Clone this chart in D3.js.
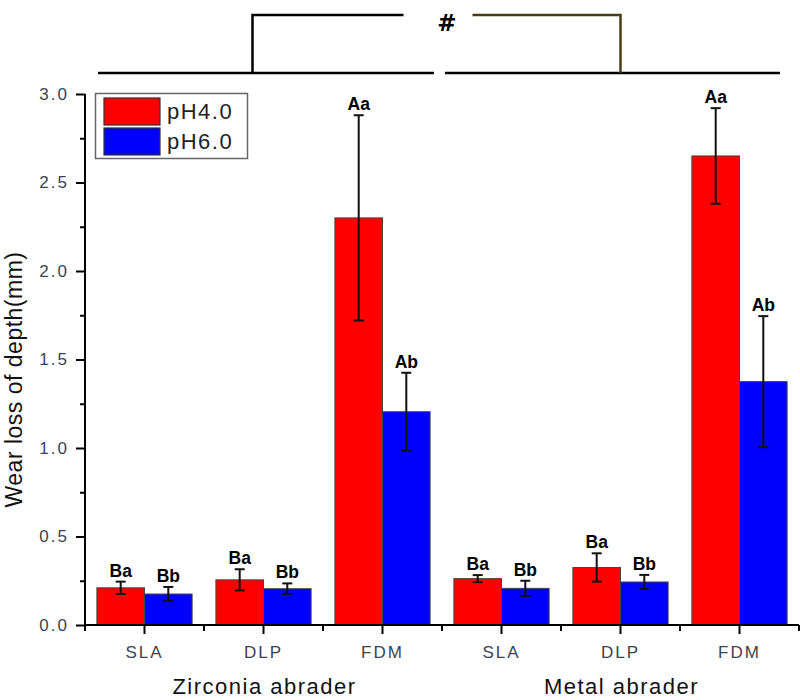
<!DOCTYPE html>
<html><head><meta charset="utf-8">
<script src="https://cdn.jsdelivr.net/npm/d3@7"></script>
<style>
body{margin:0;background:#fff;}
svg{display:block;font-family:"Liberation Sans",Arial,sans-serif;}
</style></head>
<body><svg id="chart" width="800" height="700"></svg>
<script>
// ---- data ----
const groups = ["Zirconia abrader", "Metal abrader"];
const categories = ["SLA", "DLP", "FDM"];
const seriesNames = ["pH4.0", "pH6.0"];
const seriesColors = ["#ff0000", "#0000ff"];
const ph4Values = [0.21, 0.255, 2.30, 0.262, 0.325, 2.65];
const ph4Errors = [0.035, 0.06, 0.58, 0.02, 0.08, 0.27];
const ph4Letters = ["Ba", "Ba", "Aa", "Ba", "Ba", "Aa"];
const ph6Values = [0.175, 0.205, 1.205, 0.207, 0.243, 1.375];
const ph6Errors = [0.04, 0.03, 0.22, 0.043, 0.04, 0.37];
const ph6Letters = ["Bb", "Bb", "Ab", "Bb", "Bb", "Ab"];
const yTicks = [0, 0.5, 1.0, 1.5, 2.0, 2.5, 3.0];
const yMinorTicks = [0.25, 0.75, 1.25, 1.75, 2.25, 2.75];

// ---- layout ----
const svg = d3.select("#chart");
const pL = 85, pR = 799, pT = 94, pB = 625;

const keys = [];
groups.forEach((g, gi) => categories.forEach((c, ci) => keys.push(gi + "-" + c)));
const x = d3.scaleBand().domain(keys).range([pL, pR]).paddingInner(0.2).paddingOuter(0.1);
const xs = d3.scaleBand().domain(seriesNames).range([0, x.bandwidth()]);
const y = d3.scaleLinear().domain([0, 3]).range([pB, pT]);

const rows = keys.map((k, i) => ({
  key: k, cat: categories[i % 3],
  series: [
    {name: seriesNames[0], v: ph4Values[i], e: ph4Errors[i], l: ph4Letters[i], c: seriesColors[0]},
    {name: seriesNames[1], v: ph6Values[i], e: ph6Errors[i], l: ph6Letters[i], c: seriesColors[1]}
  ]
}));

// bars
const g = svg.append("g");
const cat = g.selectAll("g.cat").data(rows).join("g").attr("transform", d => `translate(${x(d.key)},0)`);
cat.selectAll("rect").data(d => d.series).join("rect")
  .attr("x", d => xs(d.name)).attr("width", xs.bandwidth())
  .attr("y", d => y(d.v)).attr("height", d => y(0) - y(d.v))
  .attr("fill", d => d.c).attr("stroke", "#444").attr("stroke-width", 1);

// error bars
const eb = cat.selectAll("g.err").data(d => d.series).join("g")
  .attr("transform", d => `translate(${xs(d.name) + xs.bandwidth() / 2},0)`)
  .attr("stroke", "#111").attr("stroke-width", 2);
eb.append("line").attr("y1", d => y(d.v + d.e)).attr("y2", d => y(d.v - d.e));
eb.append("line").attr("x1", -5).attr("x2", 5).attr("y1", d => y(d.v + d.e)).attr("y2", d => y(d.v + d.e));
eb.append("line").attr("x1", -5).attr("x2", 5).attr("y1", d => y(d.v - d.e)).attr("y2", d => y(d.v - d.e));
cat.selectAll("text.lbl").data(d => d.series).join("text")
  .attr("x", d => xs(d.name) + xs.bandwidth() / 2)
  .attr("y", d => y(d.v + d.e) - 5)
  .attr("text-anchor", "middle").attr("font-weight", "bold").attr("font-size", 17.5)
  .attr("fill", "#000").text(d => d.l);

// y axis
const yAxis = svg.append("g").attr("transform", `translate(${pL},0)`)
  .call(d3.axisLeft(y).tickValues(yTicks).tickFormat(d3.format(".1f")).tickSize(9).tickPadding(7));
yAxis.select(".domain").attr("stroke", "#000").attr("stroke-width", 2).attr("d", `M0,${pB}V${pT}`);
yAxis.selectAll(".tick line").attr("stroke", "#000").attr("stroke-width", 2);
yAxis.selectAll("text").attr("font-size", 17).attr("fill", "#3a4450").attr("letter-spacing", 2)
  .attr("font-family", "'Liberation Sans',Arial,sans-serif");
const yMinor = svg.append("g").attr("transform", `translate(${pL},0)`)
  .call(d3.axisLeft(y).tickValues(yMinorTicks).tickSize(5).tickFormat(""));
yMinor.select(".domain").remove();
yMinor.selectAll(".tick line").attr("stroke", "#000").attr("stroke-width", 2);

// x axis
const xAxis = svg.append("g").attr("transform", `translate(0,${pB})`)
  .call(d3.axisBottom(x).tickSize(9).tickPadding(12).tickFormat((d, i) => categories[i % 3]));
xAxis.select(".domain").attr("stroke", "#000").attr("stroke-width", 2).attr("d", `M${pL},0H${pR}`);
xAxis.selectAll(".tick line").attr("stroke", "#000").attr("stroke-width", 2);
xAxis.selectAll("text").attr("font-size", 17).attr("fill", "#3a4450").attr("letter-spacing", 2)
  .attr("font-family", "'Liberation Sans',Arial,sans-serif");
const bounds = keys.map(k => x(k) - x.step() * x.paddingInner() / 2).concat([pR]);
svg.append("g").selectAll("line").data(bounds).join("line")
  .attr("x1", d => d).attr("x2", d => d).attr("y1", pB).attr("y2", pB + 6)
  .attr("stroke", "#000").attr("stroke-width", 2);

// group labels
groups.forEach((gname, gi) => {
  const k = gi + "-" + categories[1];
  svg.append("text").attr("x", x(k) + x.bandwidth() / 2 + 1).attr("y", 694)
    .attr("text-anchor", "middle").attr("font-size", 22).attr("letter-spacing", 1.5)
    .attr("fill", "#111").text(gname);
});

// y title
svg.append("text").attr("transform", `translate(22,${(pT + pB) / 2 + 20}) rotate(-90)`)
  .attr("text-anchor", "middle").attr("font-size", 23).attr("letter-spacing", 0.5)
  .attr("fill", "#111").text("Wear loss of depth(mm)");

// legend
const lg = svg.append("g");
lg.append("rect").attr("x", 95.5).attr("y", 93.5).attr("width", 152).attr("height", 65)
  .attr("fill", "#fff").attr("stroke", "#666").attr("stroke-width", 1.5);
seriesNames.forEach((s, i) => {
  lg.append("rect").attr("x", 104).attr("y", 98 + i * 30).attr("width", 56).attr("height", 27)
    .attr("fill", seriesColors[i]).attr("stroke", "#333").attr("stroke-width", 1.2);
  lg.append("text").attr("x", 167).attr("y", 119 + i * 30).attr("font-size", 22)
    .attr("letter-spacing", 1.5).attr("fill", "#222").text(s);
});

// significance brackets
const g0e = x("0-FDM") + x.bandwidth();
const g1s = x("1-SLA");
const lineY = 73, topY = 15;
svg.append("line").attr("x1", pL + 13).attr("x2", (g0e + g1s) / 2 - 8).attr("y1", lineY).attr("y2", lineY)
  .attr("stroke", "#000").attr("stroke-width", 2.5);
svg.append("line").attr("x1", (g0e + g1s) / 2 + 3).attr("x2", pR - 19).attr("y1", lineY).attr("y2", lineY)
  .attr("stroke", "#000").attr("stroke-width", 2.5);
const lx = x("0-DLP") + x.bandwidth() / 2 - 11;
const rx = x("1-DLP") + x.bandwidth() / 2;
svg.append("path").attr("d", `M${lx},${lineY}V${topY}H${lx + 151}`).attr("fill", "none")
  .attr("stroke", "#000").attr("stroke-width", 2.5);
svg.append("path").attr("d", `M${rx - 148},${topY}H${rx}V${lineY}`).attr("fill", "none")
  .attr("stroke", "#4a3c14").attr("stroke-width", 2.5);
svg.append("text").attr("x", 447).attr("y", 31).attr("text-anchor", "middle")
  .attr("font-family", "'DejaVu Sans',sans-serif")
  .attr("font-size", 23).attr("font-weight", "bold").text("#");
</script></body></html>
